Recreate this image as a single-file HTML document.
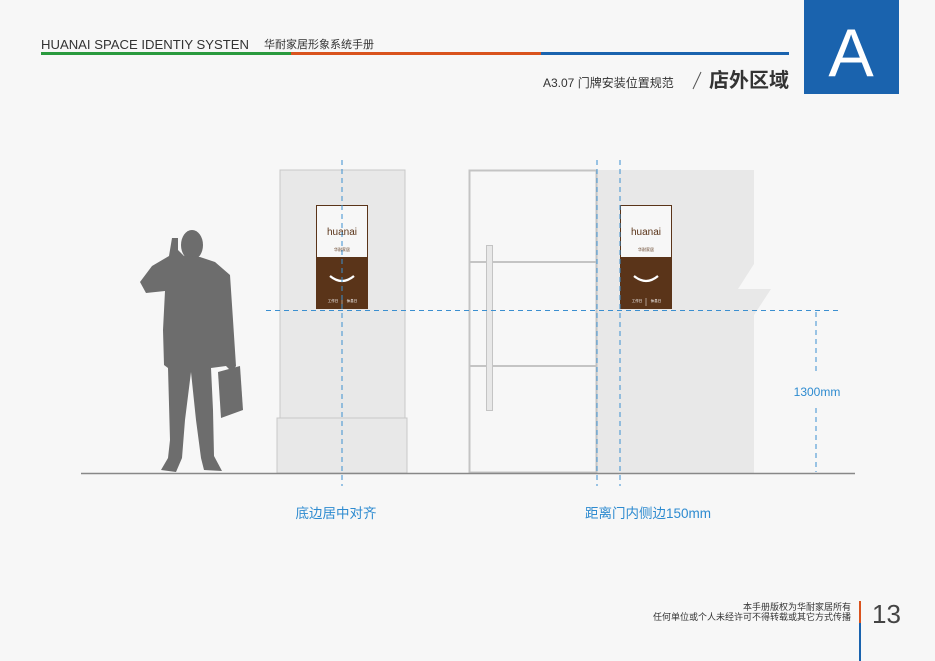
<!DOCTYPE html>
<html><head><meta charset="utf-8"><style>
body{margin:0;background:#f7f7f7;}
svg{display:block}
text{font-family:"Liberation Sans","Noto Sans CJK SC",sans-serif}
</style></head><body>
<svg width="935" height="661" viewBox="0 0 935 661" xmlns="http://www.w3.org/2000/svg">
<rect width="935" height="661" fill="#f7f7f7"/>
<!-- header -->
<text x="41" y="49" font-size="12.5" fill="#333" textLength="208" lengthAdjust="spacingAndGlyphs">HUANAI SPACE IDENTIY SYSTEN</text>
<text x="264" y="48" font-size="11" fill="#333">华耐家居形象系统手册</text>
<rect x="41" y="52" width="250" height="3" fill="#2a9a3e"/>
<rect x="291" y="52" width="250" height="3" fill="#d9531e"/>
<rect x="541" y="52" width="248" height="3" fill="#1a63ae"/>
<rect x="804" y="0" width="95" height="94" fill="#1a63ae"/>
<text x="851" y="76" font-size="68" fill="#fff" text-anchor="middle">A</text>
<text x="543" y="87" font-size="12" fill="#333">A3.07  门牌安装位置规范</text>
<line x1="693" y1="89" x2="701" y2="72" stroke="#555" stroke-width="1"/>
<text x="709" y="87" font-size="20" font-weight="bold" fill="#333">店外区域</text>

<!-- pillar -->
<rect x="280" y="170" width="125" height="248" fill="#e8e8e8" stroke="#c8c8c8"/>
<rect x="277" y="418" width="130" height="55" fill="#e8e8e8" stroke="#c8c8c8"/>
<!-- wall -->
<path d="M597,170 L754,170 L754,264 L738,289 L771,289 L754,315 L754,473 L597,473 Z" fill="#e8e8e8"/>
<!-- door -->
<rect x="469.5" y="170.5" width="127" height="302" fill="#f7f7f7" stroke="#c4c4c4" stroke-width="2"/>
<line x1="470" y1="262" x2="596" y2="262" stroke="#c4c4c4" stroke-width="2"/>
<line x1="470" y1="366" x2="596" y2="366" stroke="#c4c4c4" stroke-width="2"/>
<rect x="486.5" y="245.5" width="6" height="165" fill="#e8e8e8" stroke="#c4c4c4"/>

<!-- signs -->
<g id="s1">
<rect x="316" y="205" width="52" height="104" fill="#5a3419"/>
<rect x="317" y="206" width="50" height="51" fill="#f7f7f7"/>
<text x="342" y="235" font-size="10" fill="#5a3419" text-anchor="middle">huanai</text>
<text x="342" y="251" font-size="4" fill="#5a3419" text-anchor="middle">华耐家居</text>
<path d="M330,276 Q342,286 354,276" stroke="#fff" stroke-width="2.2" fill="none"/>
<text x="333" y="302" font-size="3.5" fill="#fff" text-anchor="middle">工作日</text>
<text x="352" y="302" font-size="3.5" fill="#fff" text-anchor="middle">休息日</text>
<line x1="342" y1="298" x2="342" y2="306" stroke="#fff" stroke-width="0.5"/>
</g>
<use href="#s1" x="304" y="0"/>

<!-- ground -->
<line x1="81" y1="473.5" x2="855" y2="473.5" stroke="#888" stroke-width="1.5"/>

<!-- person -->
<g fill="#6d6d6d">
<ellipse cx="192" cy="245" rx="11" ry="15"/>
<path d="M184,256 L178,250 L178,238 L172,238 L169,256 L152,266 L140,282 L146,293 L165,291 L163,330 L164,365 L168,368 L170,440 L168,458 L161,470 L176,472 L182,458 L185,420 L191,372 L196,420 L201,458 L204,470 L222,471 L214,456 L213,410 L211,368 L226,366 L232,372 L236,366 L233,320 L230,275 L215,262 L200,257 Z"/>
<path d="M218,372 L240,366 L243,410 L221,418 Z"/>
</g>

<!-- dashed guides -->
<g stroke="#3b8fd0" stroke-width="1" stroke-dasharray="5,4" fill="none">
<line x1="342" y1="160" x2="342" y2="486"/>
<line x1="597" y1="160" x2="597" y2="486"/>
<line x1="620" y1="160" x2="620" y2="486"/>
<line x1="266" y1="310.5" x2="840" y2="310.5"/>
<line x1="816" y1="312" x2="816" y2="372"/>
<line x1="816" y1="408" x2="816" y2="472"/>
</g>
<text x="817" y="396" font-size="12" fill="#2e8bd0" text-anchor="middle">1300mm</text>
<text x="336" y="518" font-size="13.5" fill="#2e8bd0" text-anchor="middle">底边居中对齐</text>
<text x="648" y="518" font-size="13.5" fill="#2e8bd0" text-anchor="middle">距离门内侧边150mm</text>

<!-- footer -->
<text x="851" y="610" font-size="9" fill="#333" text-anchor="end">本手册版权为华耐家居所有</text>
<text x="851" y="620" font-size="9" fill="#333" text-anchor="end">任何单位或个人未经许可不得转载或其它方式传播</text>
<rect x="859" y="601" width="2" height="22" fill="#d9531e"/>
<rect x="859" y="623" width="2" height="38" fill="#1a63ae"/>
<text x="872" y="623" font-size="26" fill="#444">13</text>
</svg>
</body></html>
